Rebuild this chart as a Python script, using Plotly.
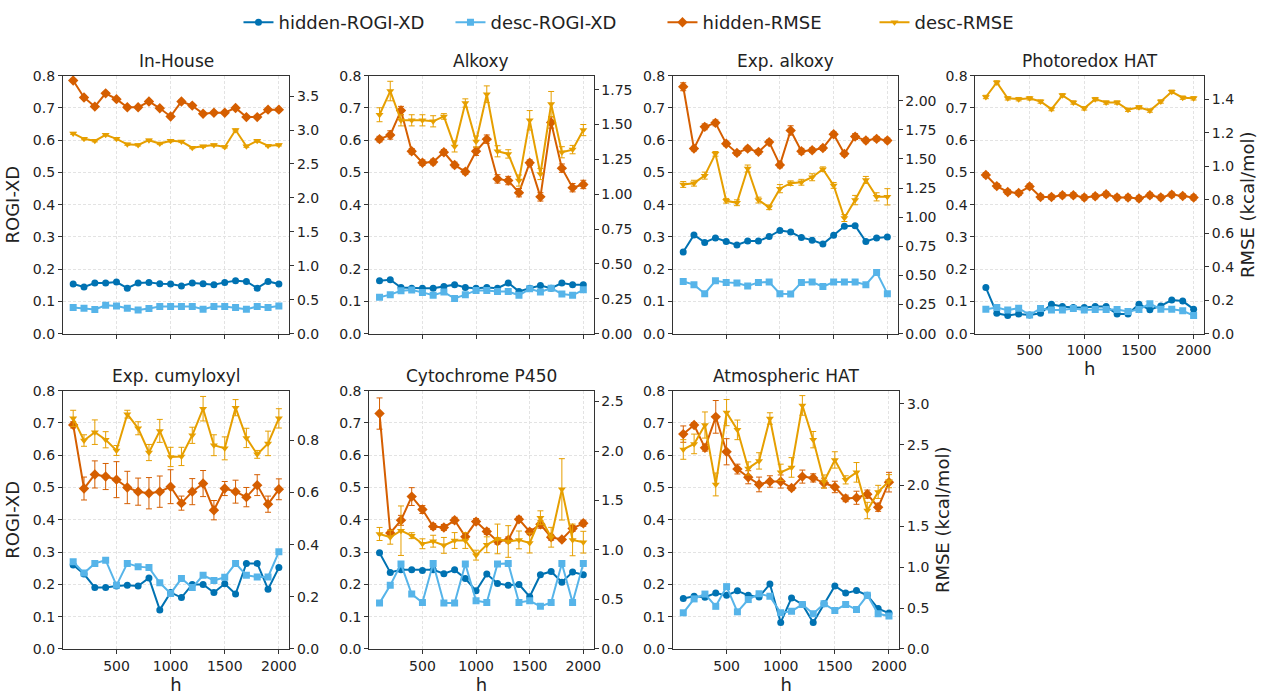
import plotly.graph_objects as go

h = [100, 200, 300, 400, 500, 600, 700, 800, 900, 1000,
     1100, 1200, 1300, 1400, 1500, 1600, 1700, 1800, 1900, 2000]

panel_titles = ["In-House", "Alkoxy", "Exp. alkoxy", "Photoredox HAT",
                "Exp. cumyloxyl", "Cytochrome P450", "Atmospheric HAT"]

# ---- In-House ----
inhouse_hidden_rogi = [0.154, 0.145, 0.157, 0.157, 0.160, 0.141, 0.157, 0.159, 0.155, 0.154,
                       0.148, 0.157, 0.155, 0.152, 0.159, 0.164, 0.162, 0.141, 0.162, 0.154]
inhouse_desc_rogi = [0.081, 0.079, 0.075, 0.088, 0.086, 0.079, 0.073, 0.078, 0.084, 0.084,
                     0.084, 0.084, 0.076, 0.084, 0.084, 0.081, 0.076, 0.084, 0.081, 0.086]
inhouse_hidden_rmse = [3.73, 3.48, 3.345, 3.54, 3.455, 3.335, 3.335, 3.42, 3.32, 3.20,
                       3.42, 3.36, 3.24, 3.255, 3.255, 3.325, 3.19, 3.19, 3.30, 3.30]
inhouse_hidden_err = [0.02] * 20
inhouse_desc_rmse = [2.95, 2.87, 2.84, 2.93, 2.87, 2.79, 2.78, 2.85, 2.80, 2.84,
                     2.83, 2.74, 2.76, 2.78, 2.75, 3.00, 2.76, 2.84, 2.77, 2.78]
inhouse_desc_err = [0.015] * 20

# ---- Alkoxy ----
alkoxy_hidden_rogi = [0.164, 0.167, 0.143, 0.141, 0.141, 0.141, 0.146, 0.152, 0.143, 0.141,
                      0.143, 0.141, 0.157, 0.131, 0.141, 0.149, 0.141, 0.157, 0.152, 0.152]
alkoxy_desc_rogi = [0.113, 0.121, 0.133, 0.135, 0.128, 0.119, 0.129, 0.109, 0.121, 0.134,
                    0.134, 0.131, 0.131, 0.119, 0.139, 0.129, 0.141, 0.123, 0.119, 0.136]
alkoxy_hidden_rmse = [1.395, 1.425, 1.60, 1.308, 1.226, 1.231, 1.301, 1.21, 1.161, 1.308,
                      1.395, 1.11, 1.098, 1.011, 1.226, 0.981, 1.514, 1.187, 1.047, 1.07]
alkoxy_hidden_err = [0.02, 0.03, 0.03, 0.02, 0.02, 0.02, 0.02, 0.02, 0.02, 0.03,
                     0.03, 0.03, 0.03, 0.03, 0.02, 0.03, 0.04, 0.03, 0.03, 0.03]
alkoxy_desc_rmse = [1.57, 1.74, 1.53, 1.53, 1.53, 1.523, 1.558, 1.343, 1.654, 1.378,
                    1.717, 1.308, 1.289, 1.098, 1.53, 1.145, 1.647, 1.301, 1.32, 1.46]
alkoxy_desc_err = [0.05, 0.07, 0.04, 0.04, 0.04, 0.04, 0.02, 0.04, 0.03, 0.04,
                   0.06, 0.04, 0.03, 0.04, 0.07, 0.04, 0.09, 0.04, 0.03, 0.04]

# ---- Exp. alkoxy ----
expalk_hidden_rogi = [0.253, 0.306, 0.283, 0.297, 0.286, 0.275, 0.287, 0.287, 0.301, 0.320,
                      0.315, 0.298, 0.290, 0.278, 0.305, 0.333, 0.335, 0.286, 0.297, 0.300]
expalk_desc_rogi = [0.162, 0.152, 0.124, 0.164, 0.159, 0.157, 0.148, 0.159, 0.160, 0.124,
                    0.123, 0.159, 0.160, 0.146, 0.160, 0.160, 0.160, 0.152, 0.190, 0.124]
expalk_hidden_rmse = [2.12, 1.589, 1.776, 1.81, 1.631, 1.552, 1.589, 1.561, 1.645, 1.449,
                      1.745, 1.566, 1.575, 1.594, 1.712, 1.544, 1.692, 1.659, 1.673, 1.659]
expalk_hidden_err = [0.034, 0.02, 0.025, 0.025, 0.02, 0.02, 0.02, 0.02, 0.02, 0.025,
                     0.04, 0.025, 0.02, 0.02, 0.02, 0.02, 0.025, 0.02, 0.02, 0.02]
expalk_desc_rmse = [1.281, 1.292, 1.357, 1.544, 1.141, 1.124, 1.418, 1.147, 1.085, 1.245,
                    1.292, 1.30, 1.343, 1.412, 1.273, 0.993, 1.147, 1.32, 1.175, 1.175]
expalk_desc_err = [0.025, 0.025, 0.03, 0.02, 0.02, 0.025, 0.03, 0.025, 0.02, 0.035,
                   0.02, 0.025, 0.03, 0.02, 0.025, 0.03, 0.04, 0.03, 0.035, 0.07]

# ---- Photoredox HAT ----
photo_hidden_rogi = [0.143, 0.063, 0.056, 0.061, 0.058, 0.063, 0.091, 0.084, 0.081, 0.081,
                     0.084, 0.084, 0.061, 0.061, 0.091, 0.074, 0.086, 0.104, 0.101, 0.076]
photo_desc_rogi = [0.076, 0.081, 0.073, 0.079, 0.058, 0.078, 0.073, 0.073, 0.078, 0.073,
                   0.075, 0.075, 0.075, 0.069, 0.075, 0.093, 0.076, 0.076, 0.071, 0.056]
photo_hidden_rmse = [0.947, 0.881, 0.846, 0.84, 0.879, 0.816, 0.816, 0.826, 0.826, 0.813,
                     0.82, 0.832, 0.813, 0.813, 0.807, 0.826, 0.813, 0.83, 0.822, 0.813]
photo_hidden_err = [0.015] * 20
photo_desc_rmse = [1.413, 1.50, 1.405, 1.40, 1.405, 1.386, 1.341, 1.423, 1.38, 1.345,
                   1.40, 1.38, 1.38, 1.337, 1.351, 1.332, 1.386, 1.444, 1.409, 1.405]
photo_desc_err = [0.01] * 20

# ---- Exp. cumyloxyl ----
cumyl_hidden_rogi = [0.260, 0.232, 0.190, 0.190, 0.195, 0.197, 0.195, 0.220, 0.121, 0.175,
                     0.159, 0.200, 0.200, 0.175, 0.202, 0.170, 0.265, 0.265, 0.185, 0.252]
cumyl_desc_rogi = [0.270, 0.235, 0.265, 0.275, 0.197, 0.265, 0.255, 0.252, 0.205, 0.172,
                   0.218, 0.190, 0.228, 0.212, 0.222, 0.265, 0.228, 0.223, 0.223, 0.301]
cumyl_hidden_rmse = [0.859, 0.615, 0.669, 0.661, 0.649, 0.619, 0.603, 0.597, 0.603, 0.622,
                     0.559, 0.603, 0.634, 0.532, 0.615, 0.603, 0.582, 0.628, 0.555, 0.612]
cumyl_hidden_err = [0.012, 0.044, 0.052, 0.05, 0.069, 0.062, 0.052, 0.06, 0.06, 0.065,
                    0.027, 0.05, 0.05, 0.037, 0.027, 0.044, 0.037, 0.04, 0.031, 0.04]
cumyl_desc_rmse = [0.884, 0.799, 0.831, 0.802, 0.761, 0.90, 0.846, 0.753, 0.836, 0.736,
                   0.738, 0.819, 0.921, 0.781, 0.769, 0.925, 0.809, 0.746, 0.788, 0.884]
cumyl_desc_err = [0.031, 0.022, 0.047, 0.031, 0.019, 0.015, 0.025, 0.031, 0.044, 0.037,
                  0.035, 0.031, 0.047, 0.04, 0.044, 0.031, 0.037, 0.015, 0.047, 0.037]

# ---- Cytochrome P450 ----
cyp_hidden_rogi = [0.298, 0.237, 0.245, 0.245, 0.243, 0.245, 0.233, 0.245, 0.218, 0.180,
                   0.232, 0.203, 0.197, 0.200, 0.162, 0.230, 0.240, 0.207, 0.238, 0.230]
cyp_desc_rogi = [0.142, 0.197, 0.263, 0.170, 0.144, 0.265, 0.142, 0.142, 0.263, 0.149,
                 0.144, 0.263, 0.265, 0.144, 0.149, 0.132, 0.144, 0.265, 0.144, 0.265]
cyp_hidden_rmse = [2.379, 1.172, 1.30, 1.54, 1.409, 1.237, 1.228, 1.30, 1.135, 1.287,
                   1.188, 1.089, 1.102, 1.31, 1.185, 1.26, 1.129, 1.106, 1.218, 1.27]
cyp_hidden_err = [0.158, 0.03, 0.05, 0.09, 0.04, 0.03, 0.03, 0.03, 0.03, 0.03,
                  0.03, 0.03, 0.03, 0.03, 0.03, 0.04, 0.03, 0.02, 0.03, 0.03]
cyp_desc_rmse = [1.162, 1.129, 1.195, 1.145, 1.063, 1.089, 1.047, 1.096, 1.096, 0.948,
                 1.053, 1.112, 1.086, 1.102, 1.07, 1.326, 1.129, 1.613, 1.102, 1.079]
cyp_desc_err = [0.066, 0.07, 0.25, 0.03, 0.05, 0.06, 0.08, 0.08, 0.08, 0.05,
                0.08, 0.15, 0.16, 0.09, 0.1, 0.07, 0.1, 0.31, 0.16, 0.11]

# ---- Atmospheric HAT ----
atm_hidden_rogi = [0.156, 0.163, 0.160, 0.173, 0.166, 0.180, 0.166, 0.161, 0.201, 0.082,
                   0.158, 0.138, 0.082, 0.140, 0.195, 0.173, 0.181, 0.166, 0.125, 0.111]
atm_desc_rogi = [0.112, 0.155, 0.170, 0.132, 0.193, 0.115, 0.153, 0.171, 0.163, 0.112,
                 0.117, 0.138, 0.109, 0.140, 0.119, 0.138, 0.122, 0.166, 0.109, 0.102]
atm_hidden_rmse = [2.629, 2.74, 2.461, 2.84, 2.413, 2.201, 2.101, 2.013, 2.049, 2.049,
                   1.97, 2.109, 2.093, 2.03, 1.982, 1.842, 1.85, 1.894, 1.734, 2.041]
atm_hidden_err = [0.1, 0.03, 0.04, 0.2, 0.16, 0.06, 0.08, 0.09, 0.07, 0.08,
                  0.03, 0.08, 0.05, 0.06, 0.07, 0.04, 0.08, 0.05, 0.05, 0.12]
atm_desc_rmse = [2.441, 2.509, 2.74, 2.013, 2.892, 2.681, 2.209, 2.301, 2.82, 2.161,
                 2.221, 2.98, 2.561, 2.049, 2.313, 2.069, 2.161, 1.694, 1.922, 2.053]
atm_desc_err = [0.12, 0.12, 0.16, 0.14, 0.16, 0.12, 0.08, 0.1, 0.07, 0.1,
                0.12, 0.12, 0.1, 0.08, 0.1, 0.05, 0.12, 0.1, 0.08, 0.08]

panels = [
    (inhouse_hidden_rogi, inhouse_desc_rogi, inhouse_hidden_rmse, inhouse_hidden_err, inhouse_desc_rmse, inhouse_desc_err),
    (alkoxy_hidden_rogi, alkoxy_desc_rogi, alkoxy_hidden_rmse, alkoxy_hidden_err, alkoxy_desc_rmse, alkoxy_desc_err),
    (expalk_hidden_rogi, expalk_desc_rogi, expalk_hidden_rmse, expalk_hidden_err, expalk_desc_rmse, expalk_desc_err),
    (photo_hidden_rogi, photo_desc_rogi, photo_hidden_rmse, photo_hidden_err, photo_desc_rmse, photo_desc_err),
    (cumyl_hidden_rogi, cumyl_desc_rogi, cumyl_hidden_rmse, cumyl_hidden_err, cumyl_desc_rmse, cumyl_desc_err),
    (cyp_hidden_rogi, cyp_desc_rogi, cyp_hidden_rmse, cyp_hidden_err, cyp_desc_rmse, cyp_desc_err),
    (atm_hidden_rogi, atm_desc_rogi, atm_hidden_rmse, atm_hidden_err, atm_desc_rmse, atm_desc_err),
]

# layout geometry (pixels of a 1261x697 canvas)
W, H = 1261, 697
x_px = [(63.3, 291), (371.7, 597.3), (677.3, 903.3), (981.7, 1211.7),
        (63.3, 291), (371.7, 597.3), (677.3, 905)]
y_px = [(69.3, 333.3)] * 4 + [(391.7, 656)] * 3
right_range = [3.80, 1.85, 2.215, 1.54, 0.99, 2.61, 3.16]
right_dtick = [0.5, 0.25, 0.25, 0.2, 0.2, 0.5, 0.5]
right_fmt = [".1f", ".2f", ".2f", ".1f", ".1f", ".1f", ".1f"]
show_xlabels = [False, False, False, True, True, True, True]
left_title = [True, False, False, False, True, False, False]
right_title = [False, False, False, True, False, False, True]

C_HID_ROGI = "#0072B2"
C_DESC_ROGI = "#56B4E9"
C_HID_RMSE = "#D55E00"
C_DESC_RMSE = "#E69F00"

FONT = "DejaVu Sans"
AX_COL = "#333333"
TXT = "#222222"
GRID = "#e3e3e3"
GRID_DASH = "3px,2px"

fig = go.Figure()
layout = dict(
    width=W, height=H, margin=dict(l=0, r=0, t=0, b=0),
    plot_bgcolor="white", paper_bgcolor="white",
    font=dict(family=FONT, size=13, color=TXT),
    showlegend=True,
    legend=dict(orientation="h", x=240 / W, xanchor="left", y=1.0 + 4 / H, yanchor="top",
                font=dict(size=18, color=TXT), entrywidth=167, entrywidthmode="pixels",
                traceorder="normal", bgcolor="rgba(0,0,0,0)"),
)
annotations = []

for i, (hr, dr, hm, hme, dm, dme) in enumerate(panels):
    n = i + 1
    xa = "x" if n == 1 else f"x{n}"
    yl_idx = 2 * n - 1
    yr_idx = 2 * n
    yl = "y" if yl_idx == 1 else f"y{yl_idx}"
    yr = f"y{yr_idx}"
    legend_on = (i == 0)

    fig.add_trace(go.Scatter(x=h, y=hr, xaxis=xa, yaxis=yl, mode="lines+markers",
                             name="hidden-ROGI-XD", legendgroup="a", showlegend=legend_on,
                             line=dict(color=C_HID_ROGI, width=2),
                             marker=dict(symbol="circle", size=7, color=C_HID_ROGI)))
    fig.add_trace(go.Scatter(x=h, y=dr, xaxis=xa, yaxis=yl, mode="lines+markers",
                             name="desc-ROGI-XD", legendgroup="b", showlegend=legend_on,
                             line=dict(color=C_DESC_ROGI, width=2),
                             marker=dict(symbol="square", size=7, color=C_DESC_ROGI)))
    fig.add_trace(go.Scatter(x=h, y=hm, xaxis=xa, yaxis=yr, mode="lines+markers",
                             name="hidden-RMSE", legendgroup="c", showlegend=legend_on,
                             line=dict(color=C_HID_RMSE, width=2),
                             marker=dict(symbol="diamond", size=8, color=C_HID_RMSE),
                             error_y=dict(type="data", array=hme, color=C_HID_RMSE,
                                          thickness=1, width=3)))
    fig.add_trace(go.Scatter(x=h, y=dm, xaxis=xa, yaxis=yr, mode="lines+markers",
                             name="desc-RMSE", legendgroup="d", showlegend=legend_on,
                             line=dict(color=C_DESC_RMSE, width=2),
                             marker=dict(symbol="triangle-down", size=7, color=C_DESC_RMSE),
                             error_y=dict(type="data", array=dme, color=C_DESC_RMSE,
                                          thickness=1, width=3)))

    x0, x1 = x_px[i]
    t0, t1 = y_px[i]
    xdom = [x0 / W, x1 / W]
    ydom = [1 - t1 / H, 1 - t0 / H]

    xkey = "xaxis" if n == 1 else f"xaxis{n}"
    ylkey = "yaxis" if yl_idx == 1 else f"yaxis{yl_idx}"
    yrkey = f"yaxis{yr_idx}"

    layout[xkey] = dict(
        domain=xdom, anchor=yl, range=[5, 2095], tickvals=[500, 1000, 1500, 2000],
        showticklabels=show_xlabels[i], ticks="outside", ticklen=4, tickwidth=1,
        tickcolor=AX_COL, showline=True, linecolor=AX_COL, linewidth=1, mirror=True,
        showgrid=True, gridcolor=GRID, griddash=GRID_DASH, gridwidth=1, zeroline=False,
        tickfont=dict(size=14, color=TXT),
        title=dict(text="h", font=dict(size=18, color=TXT), standoff=2) if show_xlabels[i] else None,
    )
    layout[ylkey] = dict(
        domain=ydom, anchor=xa, range=[0, 0.8], dtick=0.1, tick0=0, tickformat=".1f",
        ticks="outside", ticklen=4, tickwidth=1, tickcolor=AX_COL,
        showline=True, linecolor=AX_COL, linewidth=1, mirror=False,
        showgrid=True, gridcolor=GRID, griddash=GRID_DASH, gridwidth=1, zeroline=False,
        tickfont=dict(size=14, color=TXT),
        title=dict(text="ROGI-XD", font=dict(size=18, color=TXT), standoff=8) if left_title[i] else None,
    )
    layout[yrkey] = dict(
        domain=ydom, anchor=xa, overlaying=yl, side="right",
        range=[0, right_range[i]], dtick=right_dtick[i], tick0=0, tickformat=right_fmt[i],
        ticks="outside", ticklen=4, tickwidth=1, tickcolor=AX_COL,
        showline=True, linecolor=AX_COL, linewidth=1, showgrid=False, zeroline=False,
        tickfont=dict(size=14, color=TXT),
        title=dict(text="RMSE (kcal/mol)", font=dict(size=18, color=TXT), standoff=8) if right_title[i] else None,
    )

    annotations.append(dict(
        text=panel_titles[i], xref="paper", yref="paper",
        x=(xdom[0] + xdom[1]) / 2, y=ydom[1], xanchor="center", yanchor="bottom",
        yshift=3, showarrow=False, font=dict(size=17, color=TXT, family=FONT)))

layout["annotations"] = annotations
fig.update_layout(**layout)
fig.write_html("out.html")
